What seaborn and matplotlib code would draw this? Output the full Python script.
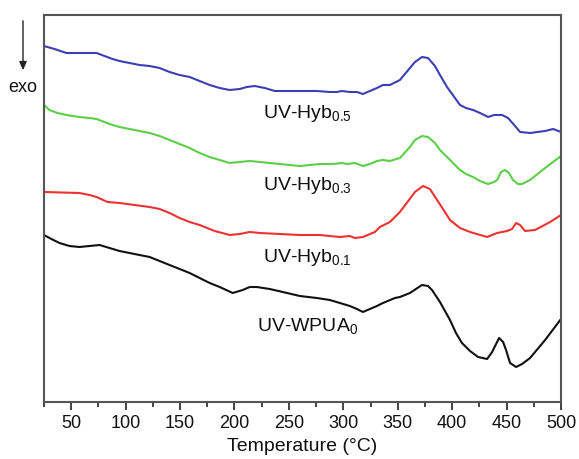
import numpy as np
import pandas as pd
import matplotlib
matplotlib.use("Agg")
import matplotlib.pyplot as plt
from matplotlib.ticker import MultipleLocator
import seaborn as sns

# ---- data (temperature in °C, signal in arbitrary units, offset curves) ----
t_hyb05 = [25, 34.6, 45.7, 57.6, 66.8, 73.3, 80.6, 88.0, 94.4, 103.6, 112.8, 122.0, 131.2, 140.4, 149.6, 158.8,
           168.0, 177.2, 186.4, 195.6, 204.8, 211.3, 218.6, 227.8, 237.0, 250.8, 264.6, 275.6, 287.6, 294.1, 298.7,
           306.0, 312.5, 318.0, 324.4, 330.9, 336.4, 342.8, 352.0, 361.2, 365.8, 372.3, 377.8, 384.2, 388.8, 395.3,
           402.6, 407.2, 412.7, 419.2, 425.6, 433.0, 438.5, 445.8, 451.3, 457.8, 462.4, 471.6, 485.4, 492.8, 500]
y_hyb05 = [356, 353, 349, 349, 349, 349, 346, 343, 341, 339, 337, 336, 334, 330, 327, 325,
           321, 317, 314, 312, 313, 315, 316, 314, 311, 311, 311, 311, 310, 310, 311,
           310, 310, 308, 311, 314, 317, 317, 322, 334, 340, 345, 344, 336, 327, 315,
           304, 297, 294, 292, 289, 285, 287, 287, 284, 276, 270, 269, 271, 273, 270]

t_hyb03 = [25, 30.0, 37.4, 45.7, 57.6, 66.8, 73.3, 85.2, 94.4, 103.6, 112.8, 122.0, 131.2, 140.4, 149.6, 158.8,
           168.0, 177.2, 186.4, 195.6, 204.8, 214.0, 223.2, 232.4, 241.6, 250.8, 260.0, 269.2, 278.4, 290.4, 298.7,
           303.3, 310.6, 318.0, 324.4, 330.9, 336.4, 342.8, 352.0, 361.2, 365.8, 372.3, 377.8, 384.2, 388.8, 395.3,
           402.6, 407.2, 412.7, 419.2, 425.6, 433.0, 438.5, 441.3, 444.9, 448.6, 452.2, 455.9, 460.5, 464.2, 471.6,
           485.4, 500]
y_hyb03 = [297, 292, 289, 287, 285, 284, 283, 278, 275, 273, 271, 269, 266, 262, 258, 254,
           249, 245, 242, 239, 240, 241, 240, 239, 238, 237, 236, 237, 238, 238, 239,
           238, 239, 236, 238, 241, 242, 241, 244, 255, 262, 266, 265, 259, 252, 245,
           237, 232, 228, 225, 221, 218, 220, 222, 230, 232, 229, 222, 218, 218, 222,
           234, 246]

t_hyb01 = [25, 57.6, 66.8, 73.3, 83.4, 94.4, 108.2, 122.0, 131.2, 140.4, 149.6, 158.8, 168.0, 181.8, 195.6, 204.8,
           214.0, 223.2, 241.6, 260.0, 278.4, 296.8, 306.0, 310.6, 318.0, 329.0, 333.6, 342.8, 352.0, 360.3, 365.8,
           373.2, 379.6, 386.1, 393.4, 398.0, 407.2, 416.4, 432.1, 441.3, 450.4, 455.0, 458.7, 462.4, 467.0, 476.2,
           490.0, 500]
y_hyb01 = [210, 209, 207, 205, 200, 199, 197, 195, 193, 189, 184, 180, 177, 171, 167, 168,
           170, 169, 168, 167, 167, 165, 166, 164, 165, 170, 175, 180, 190, 202, 210,
           216, 213, 202, 190, 182, 174, 170, 165, 169, 171, 173, 179, 177, 171, 172,
           180, 187]

t_wpua0 = [25, 30.0, 39.2, 48.4, 57.6, 66.8, 76.0, 85.2, 94.4, 103.6, 112.8, 122.0, 131.2, 140.4, 149.6, 158.8,
           168.0, 177.2, 186.4, 198.4, 207.6, 214.0, 220.5, 232.4, 244.4, 260.0, 275.6, 287.6, 296.8, 306.0, 312.5,
           318.0, 324.4, 330.9, 336.4, 347.4, 352.0, 361.2, 366.7, 372.3, 377.8, 381.5, 388.8, 398.0, 403.5, 409.0,
           416.4, 423.8, 432.1, 436.7, 443.1, 446.8, 449.5, 453.2, 458.7, 464.2, 471.6, 485.4, 500]
y_wpua0 = [167, 164, 159, 156, 155, 156, 157, 154, 151, 149, 147, 145, 141, 137, 133, 129,
           124, 119, 115, 109, 112, 115, 115, 113, 110, 106, 104, 102, 99, 96, 93,
           90, 93, 96, 99, 104, 105, 109, 113, 117, 116, 112, 100, 82, 69, 59,
           51, 45, 43, 50, 64, 60, 52, 39, 35, 38, 44, 62, 83]

series_names = ["UV-Hyb0.5", "UV-Hyb0.3", "UV-Hyb0.1", "UV-WPUA0"]
series_labels = ["UV-Hyb$_{0.5}$", "UV-Hyb$_{0.3}$", "UV-Hyb$_{0.1}$", "UV-WPUA$_{0}$"]
series_colors = ["#3b3fb2", "#5cce48", "#ee3232", "#111111"]
x_ticks = [50, 100, 150, 200, 250, 300, 350, 400, 450, 500]

frames = []
for name, t, y in zip(series_names,
                      [t_hyb05, t_hyb03, t_hyb01, t_wpua0],
                      [y_hyb05, y_hyb03, y_hyb01, y_wpua0]):
    frames.append(pd.DataFrame({"T": t, "S": y, "sample": name}))
df = pd.concat(frames, ignore_index=True)

sns.set_style("ticks")
plt.rcParams["font.family"] = ["Liberation Sans", "DejaVu Sans"]
plt.rcParams["mathtext.default"] = "regular"

fig = plt.figure(figsize=(5.79, 4.59), dpi=100)
ax = fig.add_axes([44 / 579, 1 - 402 / 459, (561 - 44) / 579, (402 - 15) / 459])

sns.lineplot(data=df, x="T", y="S", hue="sample", palette=dict(zip(series_names, series_colors)),
             sort=False, estimator=None, linewidth=1.5, legend=False, ax=ax)
for ln in ax.lines:
    ln.set_solid_joinstyle("round")
    ln.set_solid_capstyle("round")

ax.set_xlim(25, 500)
ax.set_ylim(0, 387)
ax.set_yticks([])
ax.set_ylabel("")
ax.set_xticks(x_ticks)
ax.xaxis.set_minor_locator(MultipleLocator(25))
ax.tick_params(axis="x", which="major", direction="out", length=5.5, width=1.3,
               colors="#333333", labelsize=13, labelcolor="#111111", pad=4)
ax.tick_params(axis="x", which="minor", direction="out", length=3.5, width=1.3, colors="#333333")
ax.set_xlabel("Temperature (°C)", fontsize=14, color="#111111", labelpad=4)

for s in ax.spines.values():
    s.set_visible(True)
    s.set_color("#555555")
    s.set_linewidth(1.5)

# curve labels
label_pos = [(263, 113), (263, 185), (263, 257), (257, 326)]
for (px, py), lab in zip(label_pos, series_labels):
    fig.text(px / 579, 1 - py / 459, lab, fontsize=14, color="#111111",
             ha="left", va="center")

# exo arrow
fig.add_artist(matplotlib.patches.FancyArrowPatch(
    (23 / 579, 1 - 18 / 459), (23 / 579, 1 - 73 / 459), transform=fig.transFigure,
    arrowstyle="-|>,head_length=5,head_width=2.2", color="#222222", linewidth=1.0))
fig.text(23 / 579, 1 - 88 / 459, "exo", fontsize=13, ha="center", va="center", color="#111111")

fig.savefig("out.png", dpi=100)
